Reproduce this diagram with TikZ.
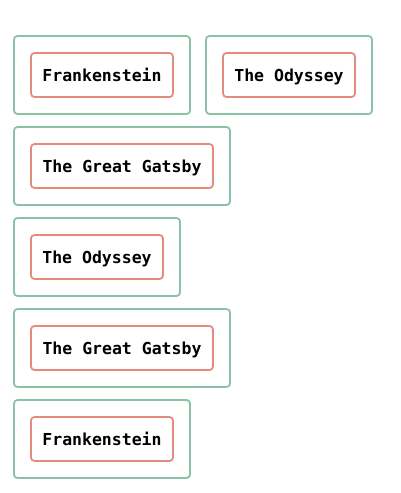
\documentclass[tikz,border=0pt]{standalone}
\usepackage{fontspec}
\setmonofont{DejaVu Sans Mono}
\definecolor{outergreen}{HTML}{8BC1A4}
\definecolor{innerred}{HTML}{E58A7E}
\begin{document}
\begin{tikzpicture}[x=1pt,y=-1pt,
  outerbox/.style={draw=outergreen,line width=1.8pt,rounded corners=3.5pt,minimum height=78pt,inner sep=0pt},
  innerbox/.style={draw=innerred,line width=1.8pt,rounded corners=3.5pt,minimum height=44pt,inner sep=0pt,
    font=\fontsize{16.5}{18}\selectfont\ttfamily\bfseries,text height=13.6pt,text depth=0pt}]
\useasboundingbox (0,0) rectangle (400,493);
\node[outerbox,minimum width=176pt] (o1) at (102,75) {};
\node[innerbox,minimum width=142pt] (i1) at (102,75) {Frankenstein};
\node[outerbox,minimum width=166pt] (o2) at (289,75) {};
\node[innerbox,minimum width=132pt] (i2) at (289,75) {The Odyssey};
\node[outerbox,minimum width=216pt] (o3) at (122,166) {};
\node[innerbox,minimum width=182pt] (i3) at (122,166) {The Great Gatsby};
\node[outerbox,minimum width=166pt] (o4) at (97,257) {};
\node[innerbox,minimum width=132pt] (i4) at (97,257) {The Odyssey};
\node[outerbox,minimum width=216pt] (o5) at (122,348) {};
\node[innerbox,minimum width=182pt] (i5) at (122,348) {The Great Gatsby};
\node[outerbox,minimum width=176pt] (o6) at (102,439) {};
\node[innerbox,minimum width=142pt] (i6) at (102,439) {Frankenstein};
\end{tikzpicture}
\end{document}
